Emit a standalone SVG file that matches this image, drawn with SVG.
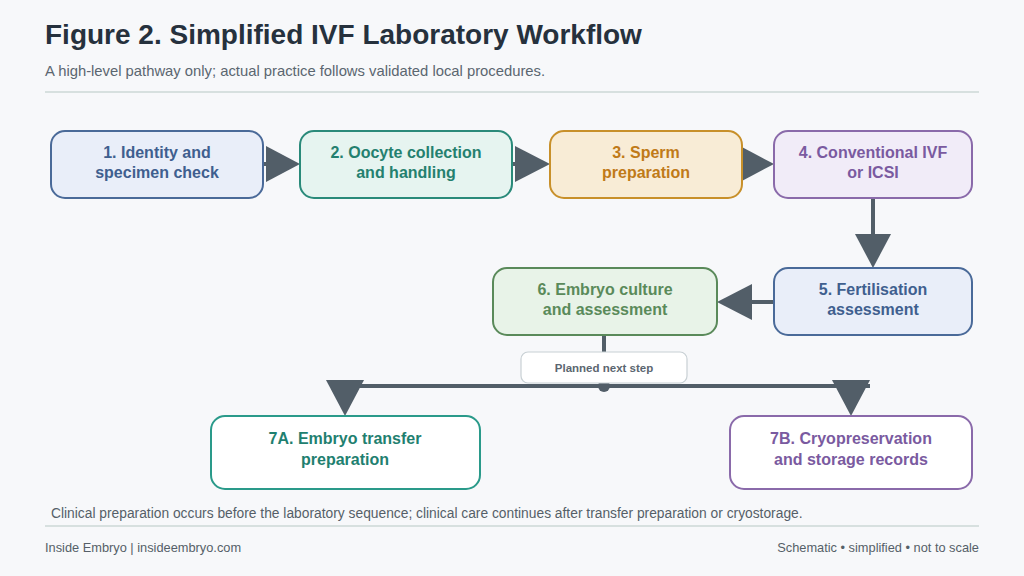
<svg xmlns="http://www.w3.org/2000/svg" width="1024" height="576" viewBox="0 0 1024 576">
<style>
text{font-family:"Liberation Sans",Arial,sans-serif}
.n{stroke-width:2}
.t{font-size:16px;font-weight:bold;text-anchor:middle}
.c{stroke:#525e68;stroke-width:4;fill:none}
.a{fill:#525e68}
</style>
<rect width="1024" height="576" fill="#f7f8fa"/>
<text x="45" y="44" font-size="28" font-weight="bold" fill="#26313d">Figure 2. Simplified IVF Laboratory Workflow</text>
<text x="45" y="76" font-size="14.8" fill="#5b6670">A high-level pathway only; actual practice follows validated local procedures.</text>
<line x1="45" y1="92" x2="979" y2="92" stroke="#b8c8c4" stroke-width="1.2"/>
<g id="connectors">
<line class="c" x1="263" y1="164" x2="280" y2="164"/><polygon class="a" points="266,146 300,164 266,182"/>
<line class="c" x1="512" y1="164" x2="530" y2="164"/><polygon class="a" points="515,146 550,164 515,182"/>
<line class="c" x1="742" y1="164" x2="760" y2="164"/><polygon class="a" points="740,146 774,164 740,182"/>
<line class="c" x1="873" y1="198" x2="873" y2="240"/><polygon class="a" points="855,234 891,234 873,268"/>
<line class="c" x1="774" y1="302" x2="740" y2="302"/><polygon class="a" points="752,284 752,320 717,302"/>
<line class="c" x1="604" y1="335" x2="604" y2="352"/>
<line class="c" x1="345" y1="386" x2="870" y2="386"/>
<circle class="a" cx="604" cy="386" r="6"/>
<polygon class="a" points="326,380 364,380 345,416"/>
<polygon class="a" points="832,380 870,380 851,416"/>
</g>
<g id="label-planned">
<rect x="521" y="352" width="166" height="31" rx="7" fill="#fff" stroke="#c8d0d4" stroke-width="1.2"/>
<text x="604" y="372" font-size="11.5" font-weight="bold" fill="#5b6670" text-anchor="middle">Planned next step</text>
</g>
<g id="n1"><rect class="n" x="51" y="131" width="212" height="67" rx="14" fill="#e9eef9" stroke="#4a6a99"/><text class="t" fill="#3f5f8f" x="157" y="158">1. Identity and</text><text class="t" fill="#3f5f8f" x="157" y="178">specimen check</text></g>
<g id="n2"><rect class="n" x="300" y="131" width="212" height="67" rx="14" fill="#e6f4f0" stroke="#2a8a7a"/><text class="t" fill="#24806f" x="406" y="158">2. Oocyte collection</text><text class="t" fill="#24806f" x="406" y="178">and handling</text></g>
<g id="n3"><rect class="n" x="550" y="131" width="192" height="67" rx="14" fill="#f8ecd6" stroke="#c8902a"/><text class="t" fill="#c07a18" x="646" y="158">3. Sperm</text><text class="t" fill="#c07a18" x="646" y="178">preparation</text></g>
<g id="n4"><rect class="n" x="774" y="131" width="198" height="67" rx="14" fill="#f1ecf8" stroke="#8a6aaa"/><text class="t" fill="#7a5aa0" x="873" y="158">4. Conventional IVF</text><text class="t" fill="#7a5aa0" x="873" y="178">or ICSI</text></g>
<g id="n5"><rect class="n" x="774" y="268" width="198" height="67" rx="14" fill="#e9eef9" stroke="#4a6a99"/><text class="t" fill="#3f5f8f" x="873" y="295">5. Fertilisation</text><text class="t" fill="#3f5f8f" x="873" y="315">assessment</text></g>
<g id="n6"><rect class="n" x="493" y="268" width="224" height="67" rx="14" fill="#e8f3e8" stroke="#5a8a5a"/><text class="t" fill="#5a8a5a" x="605" y="295">6. Embryo culture</text><text class="t" fill="#5a8a5a" x="605" y="315">and assessment</text></g>
<g id="n7a"><rect class="n" x="211" y="416" width="269" height="73" rx="14" fill="#fff" stroke="#2a9a8a"/><text class="t" fill="#1f8070" x="345" y="444">7A. Embryo transfer</text><text class="t" fill="#1f8070" x="345" y="465">preparation</text></g>
<g id="n7b"><rect class="n" x="730" y="416" width="242" height="73" rx="14" fill="#fff" stroke="#8a6aaa"/><text class="t" fill="#7a5aa0" x="851" y="444">7B. Cryopreservation</text><text class="t" fill="#7a5aa0" x="851" y="465">and storage records</text></g>
<text x="51" y="518" font-size="13.8" fill="#555f68">Clinical preparation occurs before the laboratory sequence; clinical care continues after transfer preparation or cryostorage.</text>
<line x1="45" y1="526" x2="979" y2="526" stroke="#b8c8c4" stroke-width="1.2"/>
<text x="45" y="552" font-size="12.8" fill="#555f68">Inside Embryo | insideembryo.com</text>
<text x="979" y="552" font-size="12.8" fill="#555f68" text-anchor="end">Schematic • simplified • not to scale</text>
</svg>
